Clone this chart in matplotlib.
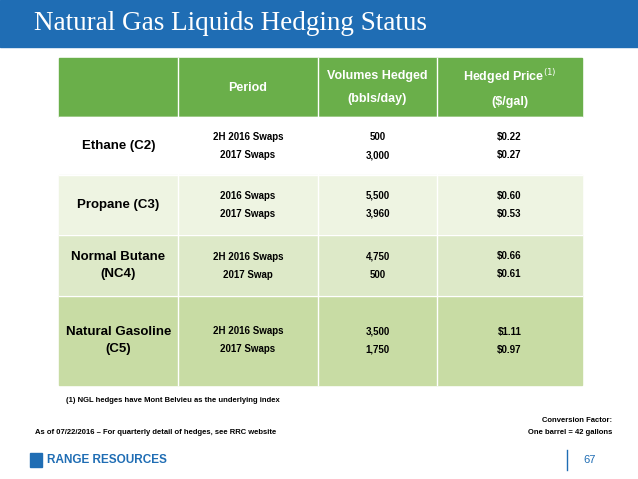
import matplotlib.pyplot as plt
from matplotlib.patches import Rectangle

products = ["Ethane (C2)", "Propane (C3)", "Normal Butane\n(NC4)", "Natural Gasoline\n(C5)"]
periods = [["2H 2016 Swaps", "2017 Swaps"], ["2016 Swaps", "2017 Swaps"],
           ["2H 2016 Swaps", "2017 Swap"], ["2H 2016 Swaps", "2017 Swaps"]]
volumes = [["500", "3,000"], ["5,500", "3,960"], ["4,750", "500"], ["3,500", "1,750"]]
prices = [["$0.22", "$0.27"], ["$0.60", "$0.53"], ["$0.66", "$0.61"], ["$1.11", "$0.97"]]

blue = "#1f6db4"
green = "#6aaf4a"
row_colors = ["#ffffff", "#eef4e2", "#dde9c8", "#c8dca4"]

fig = plt.figure(figsize=(6.38, 4.79), dpi=100)
ax = fig.add_axes([0, 0, 1, 1])
ax.set_xlim(0, 638)
ax.set_ylim(479, 0)
ax.axis("off")

# title bar
ax.add_patch(Rectangle((0, 0), 638, 47, color=blue))
ax.text(34, 23, "Natural Gas Liquids Hedging Status", color="white", fontsize=19.5,
        family="Liberation Serif", va="center")

cols = [59, 178, 318, 437, 582]
rows = [58, 117, 175, 235, 296, 385]
ax.add_patch(Rectangle((cols[0], rows[0]), cols[-1] - cols[0], rows[1] - rows[0], color=green))
for i in range(4):
    ax.add_patch(Rectangle((cols[0], rows[i + 1]), cols[-1] - cols[0], rows[i + 2] - rows[i + 1],
                           color=row_colors[i]))
for x in cols[1:-1]:
    ax.plot([x, x], [rows[0], rows[-1]], color="white", lw=1)
for y in rows[1:-1]:
    ax.plot([cols[0], cols[-1]], [y, y], color="white", lw=1)

fs = dict(family="Liberation Sans", fontweight="bold", ha="center", va="center")
hy = (rows[0] + rows[1]) / 2
ax.text((cols[1] + cols[2]) / 2, hy, "Period", color="white", fontsize=9, **fs)
ax.text((cols[2] + cols[3]) / 2, hy, "Volumes Hedged\n\n(bbls/day)", color="white", fontsize=9,
        linespacing=0.9, **fs)
ax.text((cols[3] + cols[4]) / 2, hy, "Hedged Price$^{(1)}$\n\n($/gal)", color="white", fontsize=9,
        linespacing=0.9, **fs)

for i in range(4):
    cy = (rows[i + 1] + rows[i + 2]) / 2
    ax.text((cols[0] + cols[1]) / 2, cy, products[i], fontsize=9.5, color="black",
            linespacing=1.5, **fs)
    for j, data in enumerate([periods, volumes, prices]):
        cx = (cols[j + 1] + cols[j + 2]) / 2
        ax.text(cx, cy - 9, data[i][0], fontsize=7, color="black", **fs)
        ax.text(cx, cy + 9, data[i][1], fontsize=7, color="black", **fs)

small = dict(family="Liberation Sans", fontweight="bold", fontsize=5.5, color="black", va="center")
ax.text(66, 401, "(1) NGL hedges have Mont Belvieu as the underlying index", **small)
ax.text(35, 432, "As of 07/22/2016 \u2013 For quarterly detail of hedges, see RRC website", **small)
ax.text(612, 420, "Conversion Factor:", ha="right", **small)
ax.text(612, 432, "One barrel = 42 gallons", ha="right", **small)

# footer logo and page number
ax.add_patch(Rectangle((30, 453), 12, 14, color=blue))
ax.text(47, 460, "RANGE RESOURCES", color=blue, fontsize=8.5, fontweight="bold",
        family="Liberation Sans", va="center")
ax.plot([567, 567], [450, 470], color=blue, lw=1)
ax.text(590, 460, "67", color=blue, fontsize=8, family="Liberation Sans", ha="center", va="center")

fig.savefig("out.png", dpi=100)
